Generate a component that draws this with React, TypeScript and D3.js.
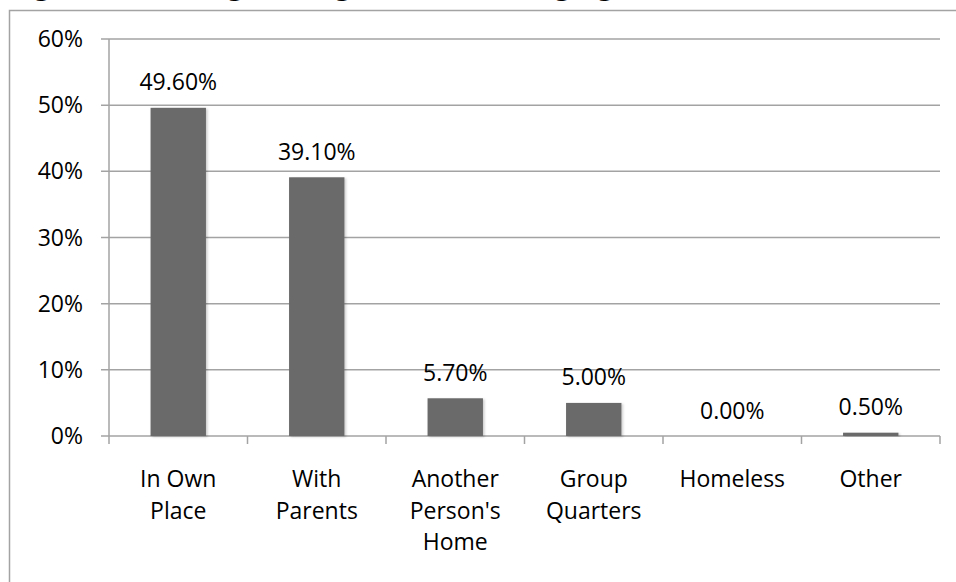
import React from "react";
import * as d3 from "d3";

const categories: string[] = ["In Own Place", "With Parents", "Another Person's Home", "Group Quarters", "Homeless", "Other"];
const categoryLines: string[][] = [["In Own", "Place"], ["With", "Parents"], ["Another", "Person's", "Home"], ["Group", "Quarters"], ["Homeless"], ["Other"]];
const values: number[] = [49.6, 39.1, 5.7, 5.0, 0.0, 0.5];
const yTicks: number[] = [0, 10, 20, 30, 40, 50, 60];
const titleText = "Figure 10: Living Arrangements After Aging Out of Foster Care";

const W = 956;
const H = 582;
const FONT = "'Open Sans', sans-serif";

export default function App() {
  const x = d3.scaleBand<string>().domain(categories).range([109, 940]).paddingInner(0.6).paddingOuter(0.3);
  const y = d3.scaleLinear().domain([0, 60]).range([436, 39]);
  const step = x.step();
  const boundaries = d3.range(categories.length + 1).map((i) => 109 + i * step);
  const gridColor = "#a3a3a3";

  return (
    <svg width={W} height={H} style={{ position: "absolute", left: 0, top: 0, background: "#fff" }}>
      <defs>
        <filter id="sh" x="-20%" y="-20%" width="140%" height="140%">
          <feDropShadow dx="1.5" dy="1" stdDeviation="1" floodColor="#000" floodOpacity="0.2" />
        </filter>
      </defs>
      <rect x={0} y={0} width={W} height={H} fill="#fff" />
      <text x={5} y={-6} fontFamily="'Liberation Serif', serif" fontWeight="bold" fontSize={32} fill="#000">
        {titleText}
      </text>
      {/* chart frame */}
      <rect x={9.5} y={10.5} width={1200} height={800} fill="none" stroke={gridColor} strokeWidth={1.5} />
      {/* gridlines */}
      {yTicks.map((t) => (
        <line key={"g" + t} x1={101} x2={940} y1={y(t)} y2={y(t)} stroke={gridColor} strokeWidth={1.5} />
      ))}
      {/* y axis */}
      <line x1={109} x2={109} y1={y(60)} y2={y(0)} stroke={gridColor} strokeWidth={1.5} />
      {yTicks.map((t) => (
        <text key={"yl" + t} x={83} y={y(t) + 8} textAnchor="end" fontFamily={FONT} fontSize={23} fill="#000">
          {t + "%"}
        </text>
      ))}
      {/* x ticks */}
      {boundaries.map((b, i) => (
        <line key={"xt" + i} x1={b} x2={b} y1={y(0)} y2={y(0) + 8} stroke={gridColor} strokeWidth={1.5} />
      ))}
      {/* bars */}
      {categories.map((c, i) => (
        <rect
          key={"b" + c}
          x={x(c)}
          y={y(values[i])}
          width={x.bandwidth()}
          height={y(0) - y(values[i])}
          fill="#6b6b6b"
          filter="url(#sh)"
        />
      ))}
      {/* data labels */}
      {categories.map((c, i) => (
        <text
          key={"dl" + c}
          x={(x(c) as number) + x.bandwidth() / 2}
          y={y(values[i]) - 17.5}
          textAnchor="middle"
          fontFamily={FONT}
          fontSize={23}
          fill="#000"
        >
          {values[i].toFixed(2) + "%"}
        </text>
      ))}
      {/* category labels */}
      {categories.map((c, i) => (
        <text key={"cl" + c} textAnchor="middle" fontFamily={FONT} fontSize={23} fill="#000">
          {categoryLines[i].map((ln, j) => (
            <tspan key={j} x={(x(c) as number) + x.bandwidth() / 2} y={487 + j * 31.5}>
              {ln}
            </tspan>
          ))}
        </text>
      ))}
    </svg>
  );
}
